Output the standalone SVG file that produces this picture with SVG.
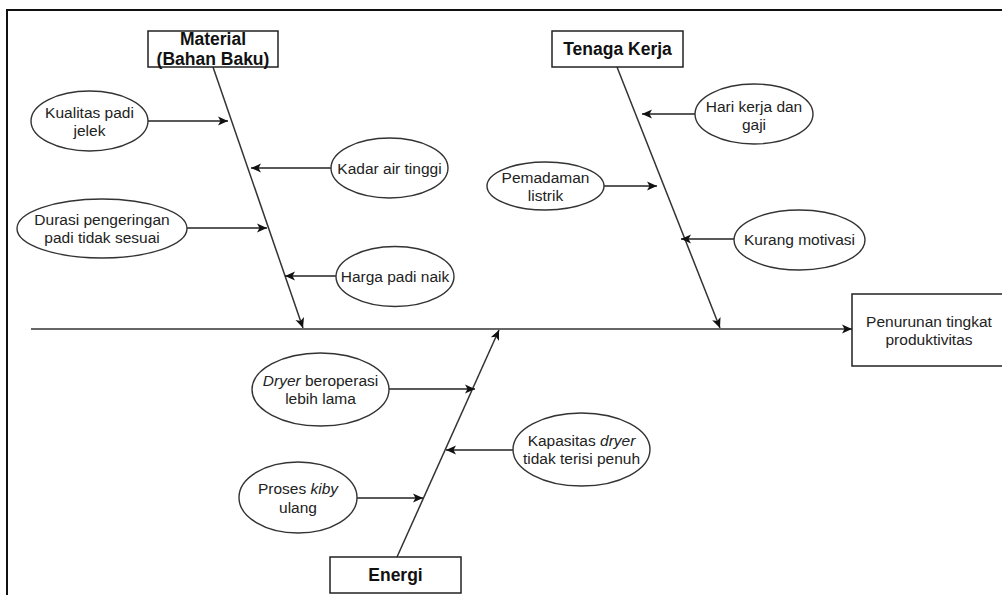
<svg xmlns="http://www.w3.org/2000/svg" width="1002" height="595" viewBox="0 0 1002 595">
<defs>
<style>
.frame{fill:#fff;stroke:#111;stroke-width:2}
.box{fill:#fff;stroke:#222;stroke-width:1.5}
.ell{fill:#fff;stroke:#333;stroke-width:1.4}
.ln{fill:none;stroke:#333;stroke-width:1.5}
.arr{fill:none;stroke:#222;stroke-width:1.4;marker-end:url(#ah)}
.t{font-family:"Liberation Sans",Arial,sans-serif;font-size:15.5px;fill:#222;text-anchor:middle;dominant-baseline:central}
.h{font-family:"Liberation Sans",Arial,sans-serif;font-size:17.5px;font-weight:bold;fill:#111;text-anchor:middle;dominant-baseline:central}
.i{font-style:italic}
</style>
<marker id="ah" markerUnits="userSpaceOnUse" markerWidth="12" markerHeight="12" viewBox="0 0 12 12" refX="11" refY="6" orient="auto">
<path d="M1,1.5 L11,6 L1,10.5 L3.5,6 Z" fill="#111"/>
</marker>
</defs>
<rect class="frame" x="7" y="10" width="1010" height="600"/>
<g id="connectors">
<line class="ln" x1="31" y1="329" x2="852" y2="329" style="marker-end:url(#ah)"/>
<line class="ln" x1="213" y1="67" x2="303" y2="328" style="marker-end:url(#ah)"/>
<line class="ln" x1="617" y1="67" x2="720" y2="328" style="marker-end:url(#ah)"/>
<line class="ln" x1="397" y1="557" x2="499" y2="330" style="marker-end:url(#ah)"/>
<line class="arr" x1="148" y1="121" x2="228" y2="121"/>
<line class="arr" x1="331" y1="168" x2="251" y2="168"/>
<line class="arr" x1="187" y1="228" x2="267" y2="228"/>
<line class="arr" x1="336" y1="276" x2="285" y2="276"/>
<line class="arr" x1="695" y1="114" x2="642" y2="114"/>
<line class="arr" x1="604" y1="186" x2="657" y2="186"/>
<line class="arr" x1="734" y1="239" x2="681" y2="239"/>
<line class="arr" x1="389" y1="389" x2="475" y2="389"/>
<line class="arr" x1="513" y1="450" x2="446" y2="450"/>
<line class="arr" x1="357" y1="498" x2="423" y2="498"/>
</g>
<g id="material">
<rect class="box" x="148" y="31" width="130" height="36"/>
<text class="h" x="213" y="39">Material</text>
<text class="h" x="213" y="59">(Bahan Baku)</text>
</g>
<g id="tenaga-kerja">
<rect class="box" x="552" y="31" width="131" height="36"/>
<text class="h" x="617.5" y="49">Tenaga Kerja</text>
</g>
<g id="energi">
<rect class="box" x="330" y="557" width="131" height="36"/>
<text class="h" x="395.5" y="575">Energi</text>
</g>
<g id="effect">
<rect class="box" x="852" y="294" width="154" height="72"/>
<text class="t" x="929" y="321">Penurunan tingkat</text>
<text class="t" x="929" y="339">produktivitas</text>
</g>
<g id="kualitas">
<ellipse class="ell" cx="89.5" cy="121" rx="58.5" ry="30"/>
<text class="t" x="89.5" y="112">Kualitas padi</text>
<text class="t" x="89.5" y="130">jelek</text>
</g>
<g id="kadar">
<ellipse class="ell" cx="389.5" cy="168" rx="58.5" ry="30"/>
<text class="t" x="389.5" y="168">Kadar air tinggi</text>
</g>
<g id="durasi">
<ellipse class="ell" cx="102" cy="228.5" rx="85" ry="29.5"/>
<text class="t" x="102" y="219">Durasi pengeringan</text>
<text class="t" x="102" y="237">padi tidak sesuai</text>
</g>
<g id="harga">
<ellipse class="ell" cx="395" cy="276.5" rx="59" ry="30"/>
<text class="t" x="395" y="276">Harga padi naik</text>
</g>
<g id="hari-kerja">
<ellipse class="ell" cx="754" cy="114" rx="59" ry="30"/>
<text class="t" x="754" y="106">Hari kerja dan</text>
<text class="t" x="754" y="124">gaji</text>
</g>
<g id="pemadaman">
<ellipse class="ell" cx="545.5" cy="186" rx="58.5" ry="24"/>
<text class="t" x="545.5" y="177">Pemadaman</text>
<text class="t" x="545.5" y="195">listrik</text>
</g>
<g id="motivasi">
<ellipse class="ell" cx="799.5" cy="240" rx="65.5" ry="30"/>
<text class="t" x="799.5" y="239">Kurang motivasi</text>
</g>
<g id="dryer-lama">
<ellipse class="ell" cx="320.5" cy="389.5" rx="68.5" ry="36.5"/>
<text class="t" x="320.5" y="380"><tspan class="i">Dryer</tspan> beroperasi</text>
<text class="t" x="320.5" y="398">lebih lama</text>
</g>
<g id="kapasitas">
<ellipse class="ell" cx="581.5" cy="449.5" rx="68.5" ry="36.5"/>
<text class="t" x="581.5" y="440">Kapasitas <tspan class="i">dryer</tspan></text>
<text class="t" x="581.5" y="458">tidak terisi penuh</text>
</g>
<g id="kiby">
<ellipse class="ell" cx="298" cy="497.5" rx="59" ry="35.5"/>
<text class="t" x="298" y="488">Proses <tspan class="i">kiby</tspan></text>
<text class="t" x="298" y="507">ulang</text>
</g>
</svg>
